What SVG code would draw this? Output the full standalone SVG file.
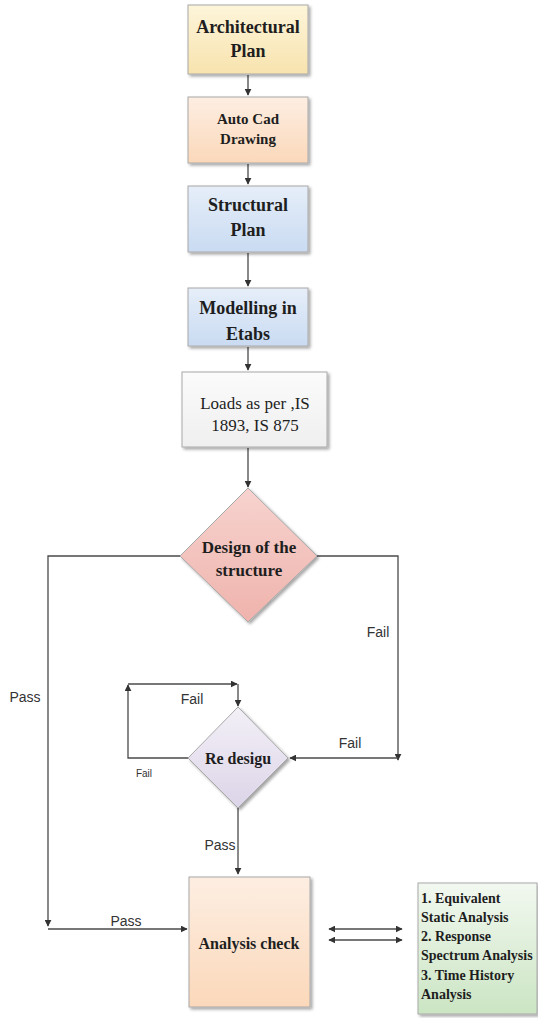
<svg xmlns="http://www.w3.org/2000/svg" width="538" height="1018" viewBox="0 0 538 1018">
<style>
.box{stroke:#a8a8a8;stroke-width:1;filter:url(#sh)}
.t{font-family:"Liberation Serif","Times New Roman",serif;font-weight:bold;fill:#1e1e1e;text-anchor:middle}
.tr{font-family:"Liberation Serif","Times New Roman",serif;fill:#1e1e1e;text-anchor:middle}
.tl{font-family:"Liberation Serif","Times New Roman",serif;font-weight:bold;fill:#1e1e1e;font-size:14px}
.lb{font-family:"Liberation Sans",Arial,sans-serif;fill:#333;font-size:14px;text-anchor:middle}
.c{fill:none;stroke:#4a4a4a;stroke-width:1.3}
.a{marker-end:url(#ah)}
.ab{marker-start:url(#as);marker-end:url(#ah)}
</style>
<defs>
<marker id="ah" viewBox="0 0 10 10" refX="9" refY="5" markerWidth="7" markerHeight="7" markerUnits="userSpaceOnUse" orient="auto"><path d="M0,0 L10,5 L0,10 z" fill="#333"/></marker>
<marker id="as" viewBox="0 0 10 10" refX="1" refY="5" markerWidth="7" markerHeight="7" markerUnits="userSpaceOnUse" orient="auto"><path d="M10,0 L0,5 L10,10 z" fill="#333"/></marker>
<filter id="sh" x="-10%" y="-10%" width="125%" height="125%"><feDropShadow dx="2" dy="2" stdDeviation="1.5" flood-color="#000" flood-opacity="0.35"/></filter>
<linearGradient id="gy" x1="0" y1="0" x2="0" y2="1"><stop offset="0" stop-color="#fdf5da"/><stop offset="1" stop-color="#f8e3ae"/></linearGradient>
<linearGradient id="gp" x1="0" y1="0" x2="0" y2="1"><stop offset="0" stop-color="#fdeee2"/><stop offset="1" stop-color="#fbd8ba"/></linearGradient>
<linearGradient id="gb" x1="0" y1="0" x2="0" y2="1"><stop offset="0" stop-color="#e6eef9"/><stop offset="1" stop-color="#c9dbf2"/></linearGradient>
<linearGradient id="gw" x1="0" y1="0" x2="0" y2="1"><stop offset="0" stop-color="#fbfbfb"/><stop offset="1" stop-color="#efefef"/></linearGradient>
<linearGradient id="gr" x1="0" y1="0" x2="0" y2="1"><stop offset="0" stop-color="#f7d3cf"/><stop offset="1" stop-color="#efb3ac"/></linearGradient>
<linearGradient id="gl" x1="0" y1="0" x2="0" y2="1"><stop offset="0" stop-color="#f3f0f7"/><stop offset="1" stop-color="#dcd4e8"/></linearGradient>
<linearGradient id="gg" x1="0" y1="0" x2="0" y2="1"><stop offset="0" stop-color="#f2f8f0"/><stop offset="1" stop-color="#cbe5c3"/></linearGradient>
</defs>
<rect width="538" height="1018" fill="#fff"/>

<g id="connectors">
<path class="c a" d="M248,75 V95"/>
<path class="c a" d="M248,164 V184"/>
<path class="c a" d="M248,253 V286"/>
<path class="c a" d="M248,347 V370"/>
<path class="c a" d="M248,448 V487"/>
<path class="c a" d="M180,556 H48 V926"/>
<path class="c a" d="M48,929 H187"/>
<path class="c a" d="M317,556 H398 V760"/>
<path class="c a" d="M398,758 H290"/>
<path class="c a" d="M188,758 H128 V685"/>
<path class="c a" d="M128,684 H237"/>
<path class="c a" d="M238,684 V706"/>
<path class="c a" d="M238,808 V874"/>
<path class="c ab" d="M329,929 H402"/>
<path class="c ab" d="M329,940 H402"/>
<text class="lb" x="378" y="637">Fail</text>
<text class="lb" x="25" y="702">Pass</text>
<text class="lb" x="192" y="704">Fail</text>
<text class="lb" x="144" y="777" style="font-size:10px">Fail</text>
<text class="lb" x="350" y="748">Fail</text>
<text class="lb" x="220" y="850">Pass</text>
<text class="lb" x="126" y="926">Pass</text>
</g>

<g id="architectural-plan">
<rect class="box" x="188" y="5" width="120" height="69" fill="url(#gy)"/>
<text class="t" x="248" y="33" font-size="18">Architectural</text>
<text class="t" x="248" y="57" font-size="18">Plan</text>
</g>

<g id="autocad-drawing">
<rect class="box" x="188" y="97" width="120" height="66" fill="url(#gp)"/>
<text class="t" x="248" y="124" font-size="15">Auto Cad</text>
<text class="t" x="248" y="144" font-size="15">Drawing</text>
</g>

<g id="structural-plan">
<rect class="box" x="188" y="186" width="120" height="66" fill="url(#gb)"/>
<text class="t" x="248" y="211" font-size="18">Structural</text>
<text class="t" x="248" y="236" font-size="18">Plan</text>
</g>

<g id="modelling-etabs">
<rect class="box" x="188" y="288" width="120" height="58" fill="url(#gb)"/>
<text class="t" x="248" y="314" font-size="18">Modelling in</text>
<text class="t" x="248" y="340" font-size="18">Etabs</text>
</g>

<g id="loads">
<rect class="box" x="182" y="372" width="145" height="75" fill="url(#gw)" stroke="#999"/>
<text class="tr" x="255" y="409" font-size="17">Loads as per ,IS</text>
<text class="tr" x="255" y="431" font-size="17">1893, IS 875</text>
</g>

<g id="design-structure">
<polygon class="box" points="248,488 317,556 248,622 180,556" fill="url(#gr)"/>
<text class="t" x="249" y="553" font-size="17">Design of the</text>
<text class="t" x="249" y="576" font-size="17">structure</text>
</g>

<g id="redesign">
<polygon class="box" points="238,707 288,758 238,808 188,758" fill="url(#gl)"/>
<text class="t" x="238" y="764" font-size="16">Re desigu</text>
</g>

<g id="analysis-check">
<rect class="box" x="189" y="877" width="121" height="130" fill="url(#gp)"/>
<text class="t" x="249" y="949" font-size="16">Analysis check</text>
</g>

<g id="analysis-methods">
<rect class="box" x="418" y="883" width="119" height="131" fill="url(#gg)"/>
<text class="tl" x="421" y="903">1. Equivalent</text>
<text class="tl" x="421" y="922">Static Analysis</text>
<text class="tl" x="421" y="941">2. Response</text>
<text class="tl" x="421" y="960">Spectrum Analysis</text>
<text class="tl" x="421" y="980">3. Time History</text>
<text class="tl" x="421" y="999">Analysis</text>
</g>
</svg>
